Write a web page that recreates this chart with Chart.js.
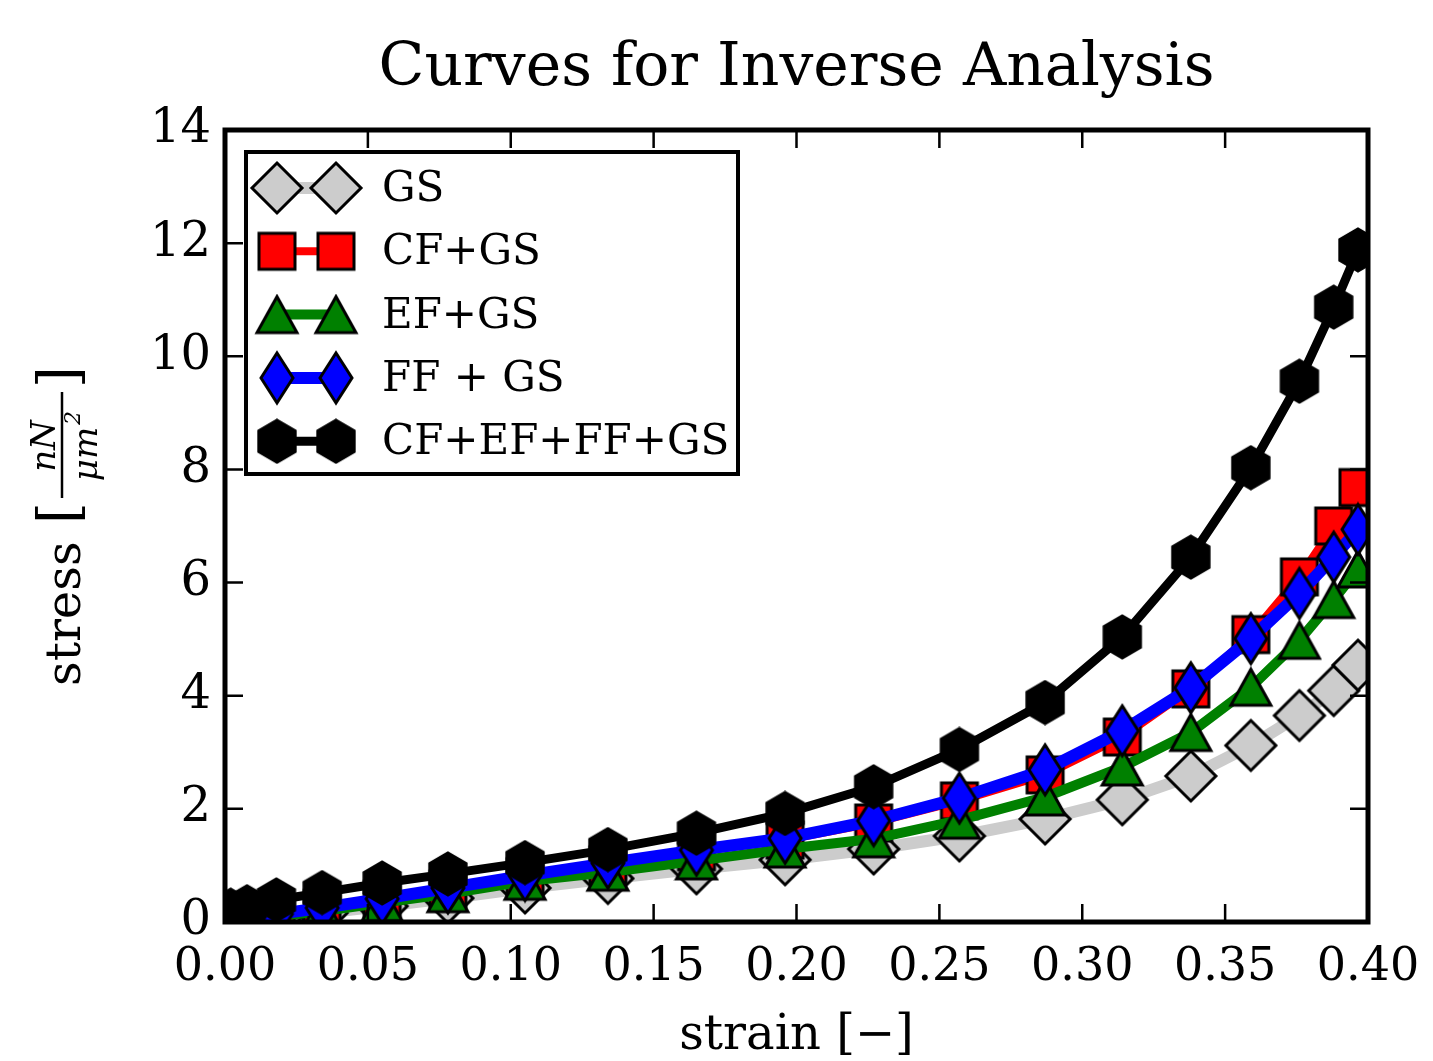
<!DOCTYPE html>
<html>
<head>
<meta charset="utf-8">
<title>Curves for Inverse Analysis</title>
<script src="https://cdn.jsdelivr.net/npm/chart.js@4.4.1/dist/chart.umd.min.js"></script>
<style>
  html, body { margin: 0; padding: 0; background: #fff; }
  #wrap { width: 1433px; height: 1061px; }
</style>
</head>
<body>
<div id="wrap"><canvas id="chart" width="1433" height="1061"></canvas></div>
<script>
// strain points shared by all curves
var strain = [0.002, 0.0077, 0.018, 0.034, 0.055, 0.078, 0.105, 0.134, 0.165, 0.196,
              0.227, 0.257, 0.287, 0.314, 0.338, 0.359, 0.376, 0.388, 0.3965];

// stress values per model
var gs      = [0.01, 0.04, 0.08, 0.16, 0.28, 0.42, 0.60, 0.77, 0.94, 1.10,
               1.29, 1.52, 1.82, 2.16, 2.58, 3.12, 3.65, 4.09, 4.54];
var cfGs    = [0.03, 0.07, 0.14, 0.24, 0.40, 0.58, 0.80, 1.01, 1.24, 1.45,
               1.75, 2.14, 2.60, 3.27, 4.12, 5.08, 6.10, 7.00, 7.68];
var efGs    = [0.02, 0.05, 0.10, 0.19, 0.34, 0.50, 0.72, 0.88, 1.08, 1.29,
               1.47, 1.80, 2.21, 2.74, 3.35, 4.15, 4.98, 5.70, 6.24];
var ffGs    = [0.03, 0.07, 0.14, 0.25, 0.41, 0.60, 0.82, 1.04, 1.27, 1.48,
               1.79, 2.19, 2.69, 3.38, 4.14, 5.01, 5.81, 6.45, 6.94];
var allFibs = [0.21, 0.27, 0.39, 0.52, 0.69, 0.85, 1.05, 1.28, 1.57, 1.92,
               2.39, 3.05, 3.88, 5.04, 6.45, 8.03, 9.56, 10.87, 11.88];

var seriesNames = ['GS', 'CF+GS', 'EF+GS', 'FF + GS', 'CF+EF+FF+GS'];

var xTicks = [0, 0.05, 0.10, 0.15, 0.20, 0.25, 0.30, 0.35, 0.40];
var yTicks = [0, 2, 4, 6, 8, 10, 12, 14];

var serif = "'DejaVu Serif', serif";

// marker images (matplotlib style: filled, black edge)
function makeMarker(w, h, fill, pts){
	var c = document.createElement('canvas');
	c.width = w; c.height = h;
	var ctx = c.getContext('2d');
	ctx.beginPath();
	ctx.moveTo(pts[0][0], pts[0][1]);
	for (var i = 1; i < pts.length; i++) ctx.lineTo(pts[i][0], pts[i][1]);
	ctx.closePath();
	ctx.fillStyle = fill;
	ctx.fill();
	ctx.lineWidth = 3;
	ctx.lineJoin = 'miter';
	ctx.strokeStyle = '#000';
	ctx.stroke();
	return c;
}

function hexPoints(cx, cy, r){
	var p = [];
	for (var k = 0; k < 6; k++){
		var a = -Math.PI / 2 + k * Math.PI / 3;
		p.push([cx + r * Math.cos(a), cy + r * Math.sin(a)]);
	}
	return p;
}

var mkDiamond = makeMarker(56, 56, '#cccccc', [[28, 3], [53, 28], [28, 53], [3, 28]]);
var mkSquare  = makeMarker(42, 42, '#ff0000', [[3, 3], [39, 3], [39, 39], [3, 39]]);
var mkTri     = makeMarker(46, 42, '#008000', [[23, 3], [43, 39], [3, 39]]);
var mkThin    = makeMarker(38, 56, '#0000ff', [[19, 3], [35, 28], [19, 53], [3, 28]]);
var mkHex     = makeMarker(42, 46, '#000000', hexPoints(21, 23, 21));

function pts(ys){
	var out = [];
	for (var i = 0; i < strain.length; i++) out.push({ x: strain[i], y: ys[i] });
	return out;
}

var datasets = [
	{ label: seriesNames[0], data: pts(gs),      borderColor: '#cccccc', borderWidth: 12, pointStyle: mkDiamond, order: 5 },
	{ label: seriesNames[1], data: pts(cfGs),    borderColor: '#ff0000', borderWidth: 8,  pointStyle: mkSquare,  order: 4 },
	{ label: seriesNames[2], data: pts(efGs),    borderColor: '#008000', borderWidth: 10, pointStyle: mkTri,     order: 3 },
	{ label: seriesNames[3], data: pts(ffGs),    borderColor: '#0000ff', borderWidth: 12, pointStyle: mkThin,    order: 2 },
	{ label: seriesNames[4], data: pts(allFibs), borderColor: '#000000', borderWidth: 9,  pointStyle: mkHex,     order: 1 }
];
datasets.forEach(function(d){
	d.fill = false;
	d.tension = 0;
	d.clip = 0;
	d.borderJoinStyle = 'round';
	d.borderCapStyle = 'round';
	d.pointRadius = 20;
	d.pointHoverRadius = 20;
});

// frame with inward ticks on all four sides, like the classic matplotlib look
var framePlugin = {
	id: 'frame',
	afterDatasetsDraw: function(chart){
		var ctx = chart.ctx, a = chart.chartArea,
			xs = chart.scales.x, ys = chart.scales.y, tl = 18;
		ctx.save();
		ctx.strokeStyle = '#000';
		ctx.lineWidth = 2.5;
		ctx.beginPath();
		xTicks.forEach(function(v){
			var px = xs.getPixelForValue(v);
			ctx.moveTo(px, a.bottom); ctx.lineTo(px, a.bottom - tl);
			ctx.moveTo(px, a.top);    ctx.lineTo(px, a.top + tl);
		});
		yTicks.forEach(function(v){
			var py = ys.getPixelForValue(v);
			ctx.moveTo(a.left, py);  ctx.lineTo(a.left + tl, py);
			ctx.moveTo(a.right, py); ctx.lineTo(a.right - tl, py);
		});
		ctx.stroke();
		ctx.lineWidth = 5;
		ctx.strokeRect(a.left, a.top, a.right - a.left, a.bottom - a.top);
		ctx.restore();
	}
};

// legend box (two markers joined by the line, as numpoints=2)
var legendPlugin = {
	id: 'mplLegend',
	afterDraw: function(chart){
		var ctx = chart.ctx, a = chart.chartArea;
		var bx = a.left + 21, by = a.top + 22, bw = 492, bh = 322;
		ctx.save();
		ctx.fillStyle = '#fff';
		ctx.fillRect(bx, by, bw, bh);
		ctx.lineWidth = 4;
		ctx.strokeStyle = '#000';
		ctx.strokeRect(bx, by, bw, bh);
		var x1 = bx + 31, x2 = bx + 90;
		chart.data.datasets.forEach(function(d, i){
			var y = by + 36 + i * 63.3;
			ctx.beginPath();
			ctx.moveTo(x1, y); ctx.lineTo(x2, y);
			ctx.lineWidth = d.borderWidth;
			ctx.strokeStyle = d.borderColor;
			ctx.stroke();
			var m = d.pointStyle;
			ctx.drawImage(m, x1 - m.width / 2, y - m.height / 2);
			ctx.drawImage(m, x2 - m.width / 2, y - m.height / 2);
			ctx.fillStyle = '#000';
			ctx.font = '42px ' + serif;
			ctx.textBaseline = 'middle';
			ctx.textAlign = 'left';
			ctx.fillText(d.label, bx + 136, y + 2);
		});
		ctx.restore();
	}
};

// y axis label: stress [ nN / μm² ] written bottom to top
var yTitlePlugin = {
	id: 'yTitle',
	afterDraw: function(chart){
		var ctx = chart.ctx;
		ctx.save();
		ctx.translate(80, 686);
		ctx.rotate(-Math.PI / 2);
		ctx.fillStyle = '#000';
		ctx.textBaseline = 'alphabetic';
		ctx.textAlign = 'left';
		ctx.font = '48px ' + serif;
		ctx.fillText('stress', 0, 0);
		ctx.font = '56px ' + serif;
		ctx.fillText('[', 162, -2);
		ctx.fillText(']', 298, -2);
		// fraction
		ctx.lineWidth = 2.5;
		ctx.strokeStyle = '#000';
		ctx.beginPath();
		ctx.moveTo(188, -18); ctx.lineTo(294, -18);
		ctx.stroke();
		ctx.textAlign = 'center';
		ctx.font = 'italic 34px ' + serif;
		ctx.fillText('nN', 240, -25);
		ctx.fillText('\u03bcm', 232, 17);
		ctx.font = 'italic 22px ' + serif;
		ctx.fillText('2', 268, 0);
		ctx.restore();
	}
};

new Chart(document.getElementById('chart').getContext('2d'), {
	type: 'line',
	data: { datasets: datasets },
	options: {
		responsive: false,
		animation: false,
		events: [],
		layout: { padding: { top: 0, right: 65, left: 0, bottom: 0 } },
		plugins: {
			legend: { display: false },
			tooltip: { enabled: false },
			title: {
				display: true,
				text: 'Curves for Inverse Analysis',
				fullSize: false,
				color: '#000',
				font: { family: serif, size: 60, weight: 'normal', lineHeight: 1.2 },
				padding: { top: 33, bottom: 25 }
			}
		},
		scales: {
			x: {
				type: 'linear',
				min: 0, max: 0.4,
				afterBuildTicks: function(s){ s.ticks = xTicks.map(function(v){ return { value: v }; }); },
				afterFit: function(s){ s.height = 139; s.paddingLeft = 0; s.paddingRight = 0; },
				grid: { display: false, drawTicks: false },
				border: { display: false },
				ticks: {
					autoSkip: false, maxRotation: 0, padding: 18, color: '#000',
					font: { family: serif, size: 46 },
					callback: function(v){ return Number(v).toFixed(2); }
				},
				title: {
					display: true, text: 'strain [\u2212]', color: '#000',
					font: { family: serif, size: 48, lineHeight: 1.0 },
					padding: { top: 0, bottom: 0 }
				}
			},
			y: {
				min: 0, max: 14,
				afterBuildTicks: function(s){ s.ticks = yTicks.map(function(v){ return { value: v }; }); },
				afterFit: function(s){ s.width = 225; s.paddingTop = 0; s.paddingBottom = 0; },
				grid: { display: false, drawTicks: false },
				border: { display: false },
				ticks: {
					autoSkip: false, padding: 14, color: '#000',
					font: { family: serif, size: 48 }
				}
			}
		}
	},
	plugins: [framePlugin, legendPlugin, yTitlePlugin]
});
</script>
</body>
</html>
